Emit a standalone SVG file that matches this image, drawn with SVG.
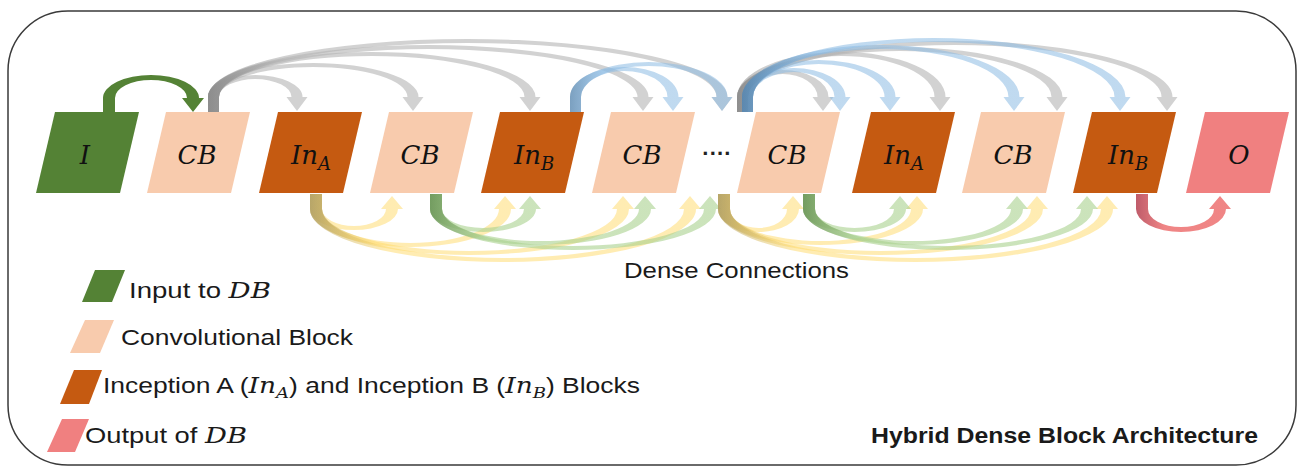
<svg xmlns="http://www.w3.org/2000/svg" width="1298" height="470" viewBox="0 0 1298 470">
<defs>
<linearGradient id="gGrey" x1="0" y1="0" x2="1" y2="0"><stop offset="0" stop-color="#8c8c8c"/><stop offset="0.15" stop-color="#b4b4b4"/></linearGradient>
<linearGradient id="gBlue" x1="0" y1="0" x2="1" y2="0"><stop offset="0" stop-color="#5a88b0"/><stop offset="0.2" stop-color="#8cbbe3"/></linearGradient>
<linearGradient id="gYel" x1="0" y1="0" x2="1" y2="0"><stop offset="0" stop-color="#b3a060"/><stop offset="0.2" stop-color="#ffd966"/></linearGradient>
<linearGradient id="gGrn" x1="0" y1="0" x2="1" y2="0"><stop offset="0" stop-color="#6a9656"/><stop offset="0.2" stop-color="#a9d18e"/></linearGradient>
<linearGradient id="gRed" x1="0" y1="0" x2="1" y2="0"><stop offset="0" stop-color="#b84a5a"/><stop offset="0.3" stop-color="#ee7878"/></linearGradient>
</defs>
<style>
.grey{fill:url(#gGrey);fill-opacity:.6}
.blue{fill:url(#gBlue);fill-opacity:.55}
.yel{fill:url(#gYel);fill-opacity:.5}
.grn{fill:url(#gGrn);fill-opacity:.6}
.red{fill:url(#gRed);fill-opacity:.9}
.gin{fill:#548235}
.in{fill:#548235}
.cb{fill:#f8cbad}
.inc{fill:#c55a11}
.out{fill:#f08080}
.lbl{font-family:"DejaVu Serif","Liberation Serif",serif;font-style:italic;font-size:26px;fill:#111;text-anchor:middle}
.sub{font-size:18px}
.lg{font-family:"Liberation Sans",Arial,sans-serif;font-size:22px;fill:#1a1a1a}
.m{font-family:"DejaVu Serif","Liberation Serif",serif;font-style:italic}
.ms{font-family:"DejaVu Serif","Liberation Serif",serif;font-style:italic;font-size:15px}
</style>
<rect x="8" y="11" width="1288" height="454" rx="60" ry="60" fill="#fff" stroke="#3a3a3a" stroke-width="1.5"/>

<g id="connectors">
<path class="gin" d="M103,112 L103,98 A48,23 0 0 1 199,98 L204,98 L193,112 L182,98 L187,98 A36,18 0 0 0 115,98 L115,112 Z"/>
<path class="grey" d="M208,112 L208,97 A47.25,22 0 0 1 302.5,97 L307.5,97 L297,111 L286.5,97 L291.5,97 A36.25,18 0 0 0 219,97 L219,112 Z"/>
<path class="grey" d="M208,112 L208,97 A105.25,34 0 0 1 418.5,97 L423.5,97 L413,111 L402.5,97 L407.5,97 A94.25,30 0 0 0 219,97 L219,112 Z"/>
<path class="grey" d="M208,112 L208,97 A163.75,45 0 0 1 535.5,97 L540.5,97 L530,111 L519.5,97 L524.5,97 A152.75,41 0 0 0 219,97 L219,112 Z"/>
<path class="grey" d="M208,112 L208,97 A220.25,52 0 0 1 648.5,97 L653.5,97 L643,111 L632.5,97 L637.5,97 A209.25,48 0 0 0 219,97 L219,112 Z"/>
<path class="grey" d="M208,112 L208,97 A259.75,58 0 0 1 727.5,97 L732.5,97 L722,111 L711.5,97 L716.5,97 A248.75,54 0 0 0 219,97 L219,112 Z"/>
<path class="blue" d="M570,112 L570,97 A54.25,30 0 0 1 678.5,97 L683.5,97 L673,111 L662.5,97 L667.5,97 A43.25,26 0 0 0 581,97 L581,112 Z"/>
<path class="blue" d="M570,112 L570,97 A78.75,35 0 0 1 727.5,97 L732.5,97 L722,111 L711.5,97 L716.5,97 A67.75,31 0 0 0 581,97 L581,112 Z"/>
<path class="grey" d="M737,112 L737,97 A45.75,27 0 0 1 828.5,97 L833.5,97 L823,111 L812.5,97 L817.5,97 A34.75,23 0 0 0 748,97 L748,112 Z"/>
<path class="grey" d="M737,112 L737,97 A104.25,45 0 0 1 945.5,97 L950.5,97 L940,111 L929.5,97 L934.5,97 A93.25,41 0 0 0 748,97 L748,112 Z"/>
<path class="grey" d="M737,112 L737,97 A162.75,50 0 0 1 1062.5,97 L1067.5,97 L1057,111 L1046.5,97 L1051.5,97 A151.75,46 0 0 0 748,97 L748,112 Z"/>
<path class="grey" d="M737,112 L737,97 A217.75,56 0 0 1 1172.5,97 L1177.5,97 L1167,111 L1156.5,97 L1161.5,97 A206.75,52 0 0 0 748,97 L748,112 Z"/>
<path class="blue" d="M742,112 L742,97 A51.75,29 0 0 1 845.5,97 L850.5,97 L840,111 L829.5,97 L834.5,97 A40.75,25 0 0 0 753,97 L753,112 Z"/>
<path class="blue" d="M742,112 L742,97 A76.75,37 0 0 1 895.5,97 L900.5,97 L890,111 L879.5,97 L884.5,97 A65.75,33 0 0 0 753,97 L753,112 Z"/>
<path class="blue" d="M742,112 L742,97 A138.75,52 0 0 1 1019.5,97 L1024.5,97 L1014,111 L1003.5,97 L1008.5,97 A127.75,48 0 0 0 753,97 L753,112 Z"/>
<path class="blue" d="M742,112 L742,97 A191.75,59 0 0 1 1125.5,97 L1130.5,97 L1120,111 L1109.5,97 L1114.5,97 A180.75,55 0 0 0 753,97 L753,112 Z"/>

<path class="yel" d="M310,194 L310,209 A44,21 0 0 0 398,209 L403,209 L392,196 L381,209 L386,209 A32,17 0 0 1 322,209 L322,194 Z"/>
<path class="yel" d="M310,194 L310,209 A100.5,38 0 0 0 511,209 L516,209 L505,196 L494,209 L499,209 A88.5,34 0 0 1 322,209 L322,194 Z"/>
<path class="yel" d="M310,194 L310,209 A159.5,46 0 0 0 629,209 L634,209 L623,196 L612,209 L617,209 A147.5,42 0 0 1 322,209 L322,194 Z"/>
<path class="yel" d="M310,194 L310,209 A193,53 0 0 0 696,209 L701,209 L690,196 L679,209 L684,209 A181,49 0 0 1 322,209 L322,194 Z"/>
<path class="grn" d="M430,194 L430,209 A53,23 0 0 0 536,209 L541,209 L530,196 L519,209 L524,209 A41,19 0 0 1 442,209 L442,194 Z"/>
<path class="grn" d="M430,194 L430,209 A110.5,36 0 0 0 651,209 L656,209 L645,196 L634,209 L639,209 A98.5,32 0 0 1 442,209 L442,194 Z"/>
<path class="grn" d="M430,194 L430,209 A143,41 0 0 0 716,209 L721,209 L710,196 L699,209 L704,209 A131,37 0 0 1 442,209 L442,194 Z"/>
<path class="yel" d="M718,194 L718,209 A40.5,23 0 0 0 799,209 L804,209 L793,196 L782,209 L787,209 A28.5,19 0 0 1 730,209 L730,194 Z"/>
<path class="yel" d="M718,194 L718,209 A102.5,36 0 0 0 923,209 L928,209 L917,196 L906,209 L911,209 A90.5,32 0 0 1 730,209 L730,194 Z"/>
<path class="yel" d="M718,194 L718,209 A162.5,46 0 0 0 1043,209 L1048,209 L1037,196 L1026,209 L1031,209 A150.5,42 0 0 1 730,209 L730,194 Z"/>
<path class="yel" d="M718,194 L718,209 A197.5,53 0 0 0 1113,209 L1118,209 L1107,196 L1096,209 L1101,209 A185.5,49 0 0 1 730,209 L730,194 Z"/>
<path class="grn" d="M803,194 L803,209 A51.5,23 0 0 0 906,209 L911,209 L900,196 L889,209 L894,209 A39.5,19 0 0 1 815,209 L815,194 Z"/>
<path class="grn" d="M803,194 L803,209 A110,36 0 0 0 1023,209 L1028,209 L1017,196 L1006,209 L1011,209 A98,32 0 0 1 815,209 L815,194 Z"/>
<path class="grn" d="M803,194 L803,209 A145,41 0 0 0 1093,209 L1098,209 L1087,196 L1076,209 L1081,209 A133,37 0 0 1 815,209 L815,194 Z"/>
<path class="red" d="M1136,194 L1136,209 A45,23 0 0 0 1226,209 L1231,209 L1220,196 L1209,209 L1214,209 A33,18 0 0 1 1148,209 L1148,194 Z"/>
</g>

<g id="node-I"><polygon class="in" points="55,112 139,112 120,193 36,193"/><text class="lbl" x="85" y="164">I</text></g>
<g id="node-CB1"><polygon class="cb" points="166,112 250,112 231,193 147,193"/><text class="lbl" x="197" y="164">CB</text></g>
<g id="node-InA1"><polygon class="inc" points="278,112 362,112 343,193 259,193"/><text class="lbl" x="311" y="164">In<tspan class="sub" dy="6">A</tspan></text></g>
<g id="node-CB2"><polygon class="cb" points="389,112 473,112 454,193 370,193"/><text class="lbl" x="420" y="164">CB</text></g>
<g id="node-InB1"><polygon class="inc" points="500,112 584,112 565,193 481,193"/><text class="lbl" x="534" y="164">In<tspan class="sub" dy="6">B</tspan></text></g>
<g id="node-CB3"><polygon class="cb" points="611,112 695,112 676,193 592,193"/><text class="lbl" x="642" y="164">CB</text></g>
<g id="node-dots"><text x="717" y="161" font-family="Liberation Sans, Arial, sans-serif" font-size="22" font-weight="bold" fill="#222" text-anchor="middle">····</text></g>
<g id="node-CB4"><polygon class="cb" points="756,112 840,112 821,193 737,193"/><text class="lbl" x="787" y="164">CB</text></g>
<g id="node-InA2"><polygon class="inc" points="871,112 955,112 936,193 852,193"/><text class="lbl" x="904" y="164">In<tspan class="sub" dy="6">A</tspan></text></g>
<g id="node-CB5"><polygon class="cb" points="981,112 1065,112 1046,193 962,193"/><text class="lbl" x="1013" y="164">CB</text></g>
<g id="node-InB2"><polygon class="inc" points="1092,112 1176,112 1157,193 1073,193"/><text class="lbl" x="1128" y="164">In<tspan class="sub" dy="6">B</tspan></text></g>
<g id="node-O"><polygon class="out" points="1205,112 1289,112 1270,193 1186,193"/><text class="lbl" x="1239" y="164">O</text></g>

<text id="dense-label" class="lg" x="624" y="278" textLength="225" lengthAdjust="spacingAndGlyphs">Dense Connections</text>

<g id="legend-input"><polygon class="in" points="95,270 125,270 112,302 82,302"/><text class="lg" x="129" y="298" textLength="142" lengthAdjust="spacingAndGlyphs">Input to <tspan class="m">DB</tspan></text></g>
<g id="legend-cb"><polygon class="cb" points="85,320 114,320 100,353 70,353"/><text class="lg" x="121" y="345" textLength="232" lengthAdjust="spacingAndGlyphs">Convolutional Block</text></g>
<g id="legend-inception"><polygon class="inc" points="74,370 102,370 89,404 60,404"/><text class="lg" x="103" y="393" textLength="537" lengthAdjust="spacingAndGlyphs">Inception A (<tspan class="m">In</tspan><tspan class="ms" dy="5">A</tspan><tspan dy="-5">) and Inception B (</tspan><tspan class="m">In</tspan><tspan class="ms" dy="5">B</tspan><tspan dy="-5">) Blocks</tspan></text></g>
<g id="legend-output"><polygon class="out" points="62,419 89,419 75,452 47,452"/><text class="lg" x="85" y="443" textLength="162" lengthAdjust="spacingAndGlyphs">Output of <tspan class="m">DB</tspan></text></g>

<text id="title" class="lg" x="871" y="443" font-weight="bold" textLength="387" lengthAdjust="spacingAndGlyphs">Hybrid Dense Block Architecture</text>
</svg>
